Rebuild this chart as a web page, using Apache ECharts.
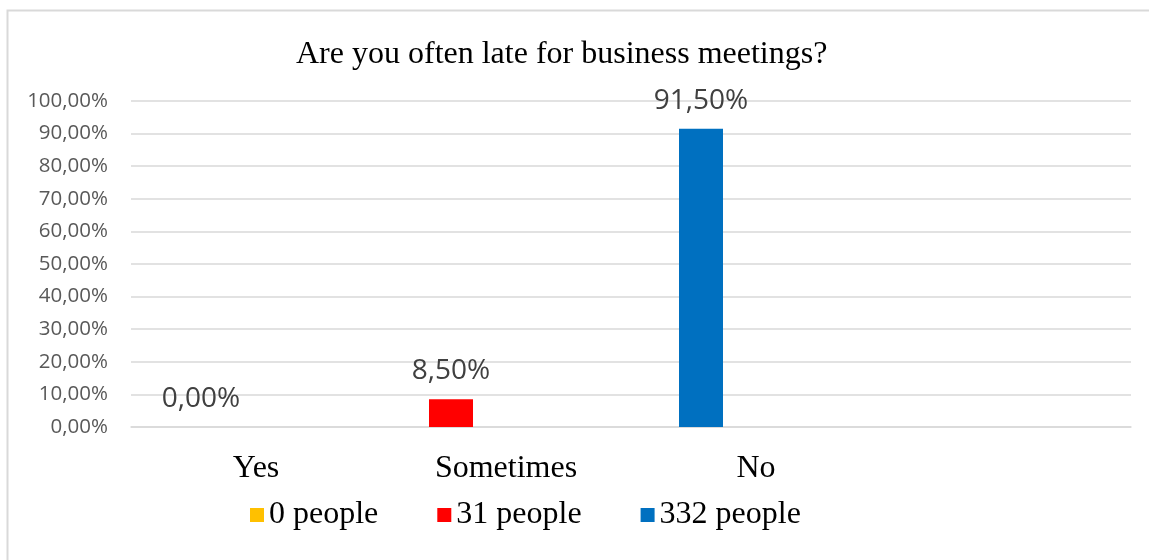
<!DOCTYPE html>
<html>
<head>
<meta charset="utf-8">
<script src="https://cdn.jsdelivr.net/npm/echarts@6/dist/echarts.min.js"></script>
<style>
  html, body { margin: 0; padding: 0; background: #ffffff; }
  #chart { width: 1149px; height: 560px; }
</style>
</head>
<body>
<div id="chart"></div>
<script>
// Survey answers and their shares (percent of respondents)
const categories = ['Yes', 'Sometimes', 'No', ''];
const seriesNames = ['0 people', '31 people', '332 people'];
const yesShare = [0, null, null, null];
const sometimesShare = [null, 8.5, null, null];
const noShare = [null, null, 91.5, null];
const shares = [yesShare, sometimesShare, noShare];
const colors = ['#FFC000', '#FF0000', '#0070C0'];

const yTicks = { min: 0, max: 100, interval: 10 };

function pct(v) {
  return v.toFixed(2).replace('.', ',') + '%';
}

const chart = echarts.init(document.getElementById('chart'), null, { renderer: 'canvas' });

// Answer series share one stack so each answer sits in the first slot of its group;
// the two empty stacks hold the remaining slots of the cluster.
const answerSeries = seriesNames.map((name, i) => ({
  name: name,
  type: 'bar',
  stack: 'answers',
  data: shares[i],
  barWidth: 44,
  barGap: '25%',
  itemStyle: { color: colors[i] },
  label: {
    show: true,
    position: 'top',
    distance: 14,
    fontFamily: 'Open Sans',
    fontSize: 28,
    color: '#404040',
    formatter: p => pct(p.value)
  }
}));

const emptySlots = ['slotB', 'slotC'].map(id => ({
  name: id,
  type: 'bar',
  stack: id,
  data: categories.map(() => null),
  barWidth: 44,
  barGap: '25%'
}));

chart.setOption({
  animation: false,
  title: {
    text: 'Are you often late for business meetings?',
    left: 291,
    top: 34,
    textStyle: {
      fontFamily: 'Liberation Serif',
      fontWeight: 'normal',
      fontSize: 32,
      color: '#000000'
    }
  },
  legend: {
    data: seriesNames,
    left: 245,
    top: 494,
    itemWidth: 14,
    itemHeight: 14,
    itemGap: 59,
    icon: 'rect',
    textStyle: {
      fontFamily: 'Liberation Serif',
      fontSize: 32,
      color: '#000000'
    }
  },
  grid: { left: 131, right: 18, top: 101, bottom: 133, containLabel: false },
  xAxis: {
    type: 'category',
    data: categories,
    axisLine: { show: true, lineStyle: { color: '#d9d9d9', width: 1.5 } },
    axisTick: { show: false },
    axisLabel: {
      margin: 26,
      fontFamily: 'Liberation Serif',
      fontSize: 32,
      color: '#000000'
    }
  },
  yAxis: {
    type: 'value',
    min: yTicks.min,
    max: yTicks.max,
    interval: yTicks.interval,
    axisLine: { show: false },
    axisTick: { show: false },
    splitLine: { lineStyle: { color: '#d9d9d9', width: 1.5 } },
    axisLabel: {
      margin: 23,
      fontFamily: 'Open Sans',
      fontSize: 20.5,
      color: '#595959',
      formatter: v => pct(v)
    }
  },
  graphic: [{
    type: 'rect',
    silent: true,
    shape: { x: 7.5, y: 10.5, width: 1200, height: 600 },
    style: { fill: 'none', stroke: '#d9d9d9', lineWidth: 2 }
  }],
  series: answerSeries.concat(emptySlots)
});
</script>
</body>
</html>
